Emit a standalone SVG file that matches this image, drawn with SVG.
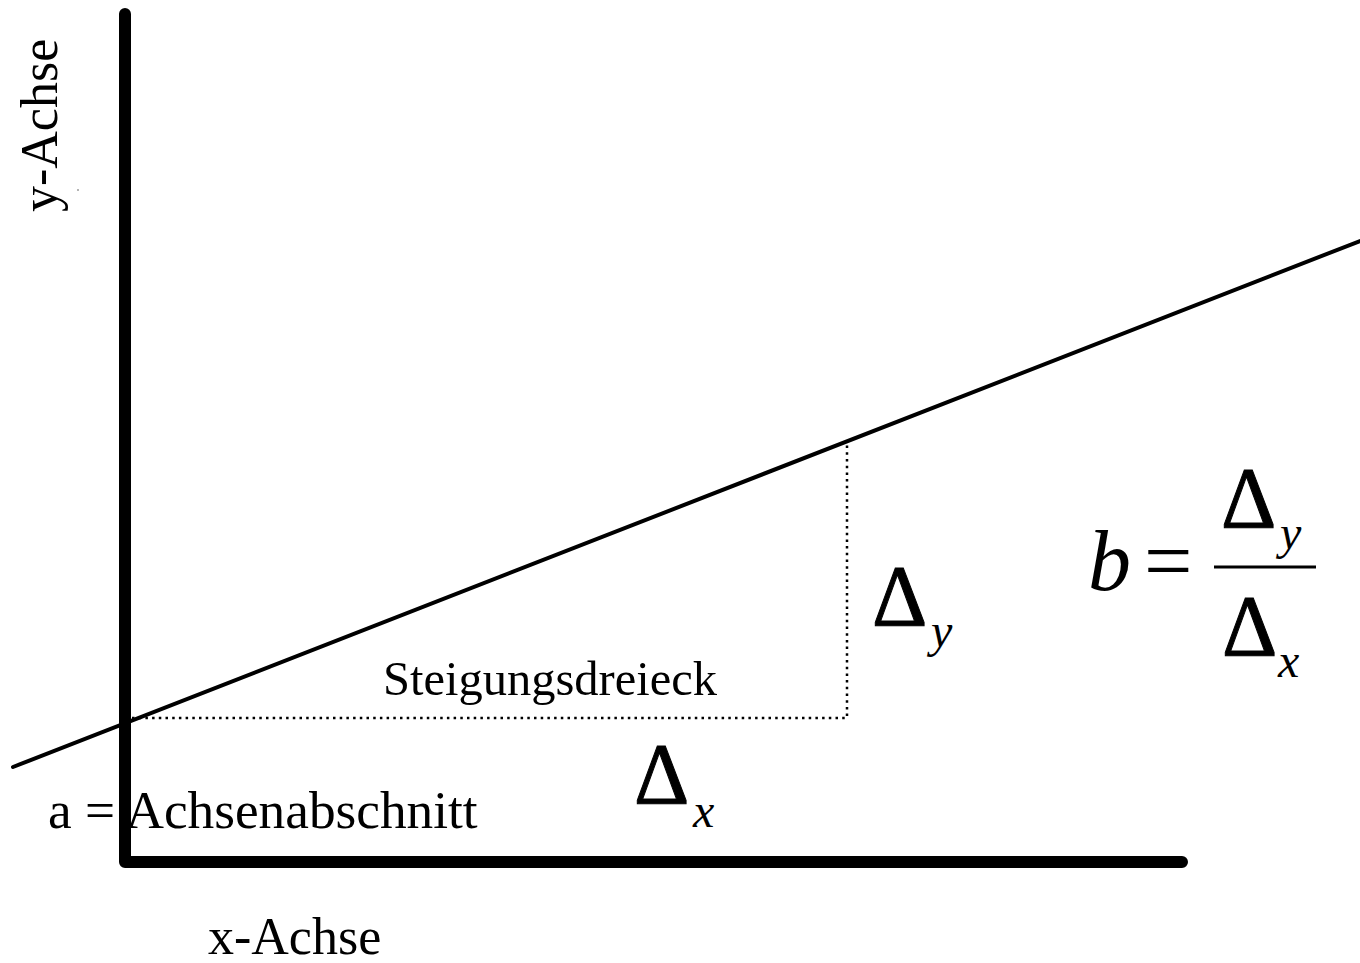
<svg xmlns="http://www.w3.org/2000/svg" width="1360" height="963" viewBox="0 0 1360 963">
<style>
.axis{stroke:#000;stroke-width:12;fill:none;stroke-linecap:round;stroke-linejoin:round}
.reg{stroke:#000;stroke-width:4;stroke-linecap:round}
.dot{stroke:#000;stroke-width:2.5;stroke-dasharray:2.5,4.2;fill:none}
.t{font-family:"Liberation Serif","Times New Roman",serif;fill:#000}
.it{font-style:italic}
.d{font-family:"Liberation Serif","Times New Roman",serif;font-size:86px;fill:#000;stroke:#000;stroke-width:1}
</style>
<rect width="1360" height="963" fill="#fff"/>
<g id="axes">
<polyline class="axis" points="125,14 125,862 1182,862"/>
</g>
<g id="connectors">
<line class="reg" x1="13" y1="767" x2="1360" y2="241"/>
<polyline class="dot" points="132,718 847,718 847,444"/>
<line x1="1214" y1="567" x2="1316" y2="567" stroke="#000" stroke-width="3"/>
</g>
<g id="labels">
<text class="t" font-size="52" transform="translate(57,212) rotate(-90)">y-Achse</text>
<circle cx="78" cy="190" r="0.8" fill="#555"/>
<text class="t" font-size="52" x="208" y="954">x-Achse</text>
<text class="t" font-size="53.3" x="48" y="828">a = Achsenabschnitt</text>
<text class="t" font-size="48.5" x="383" y="695">Steigungsdreieck</text>
</g>
<g id="delta-y">
<text class="d" x="872" y="625">Δ</text>
<text class="t it" font-size="48" x="931" y="647">y</text>
</g>
<g id="delta-x">
<text class="d" x="634" y="803">Δ</text>
<text class="t it" font-size="48" x="693" y="827">x</text>
</g>
<g id="formula">
<text class="t it" font-size="86" x="1088" y="590">b</text>
<text class="t" font-size="86" x="1144" y="590">=</text>
<text class="d" x="1221" y="527">Δ</text>
<text class="t it" font-size="48" x="1280" y="549">y</text>
<text class="d" x="1222" y="655">Δ</text>
<text class="t it" font-size="48" x="1278" y="677">x</text>
</g>
</svg>
